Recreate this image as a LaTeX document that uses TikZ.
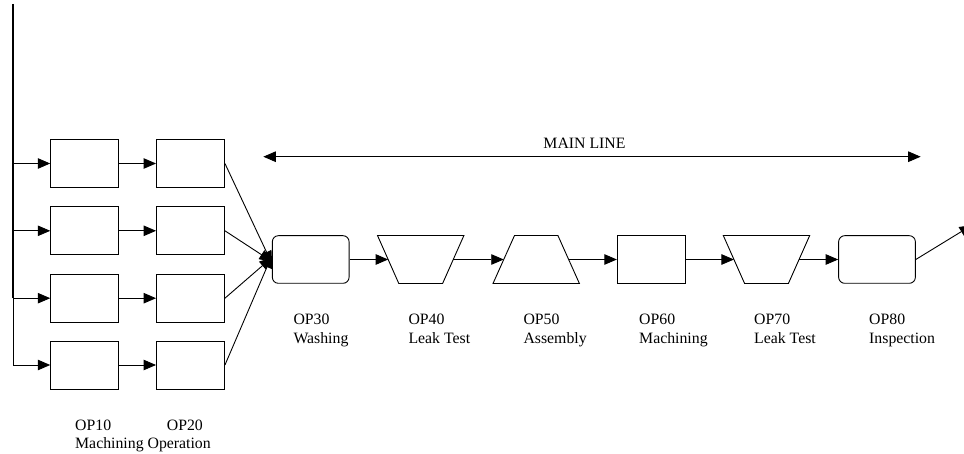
\documentclass[tikz,border=0pt]{standalone}
\usepackage{fontspec}
\setmainfont{Liberation Serif}
\usetikzlibrary{arrows.meta}
\tikzset{
  box/.style={draw, line width=0.9pt, minimum width=68pt, minimum height=48pt, inner sep=0pt},
  rbox/.style={draw, line width=0.9pt, rounded corners=6pt, minimum width=76.7pt, minimum height=47.6pt, inner sep=0pt},
  trap/.style={draw=none, minimum width=86pt, minimum height=47.6pt, inner sep=0pt},
  lbl/.style={font=\fontsize{15.8}{18.4}\selectfont, align=left, inner sep=0pt, anchor=base west},
  flow/.style={line width=0.9pt, -{Triangle[length=12.5pt,width=10.5pt]}},
  shp/.style={line width=0.9pt}
}
\begin{document}
\begin{tikzpicture}[x=1pt,y=-1pt]
\useasboundingbox (0,0) rectangle (964,454);
% feeder line
\coordinate (top) at (13,4);
\coordinate (b1) at (13,163.5);
\coordinate (b2) at (13,230.8);
\coordinate (b3) at (13,298.2);
\coordinate (b4) at (13,365);
\draw[line width=2pt] (top) -- (b3);
\draw[line width=0.9pt] (b3) -- (b4);
% OP10 / OP20 boxes
\foreach \i/\y in {1/163.5,2/230.8,3/298.2,4/365}{
  \node[box] (a\i) at (84.7,\y) {};
  \node[box] (c\i) at (190.5,\y) {};
  \draw[flow] (b\i) -- (a\i.west);
  \draw[flow] (a\i.east) -- (c\i.west);
}
% main line stations
\node[rbox] (op30) at (310.7,259.5) {};
\node[trap] (op40) at (420.7,259.5) {};
\draw[shp] (op40.north west) -- (op40.north east) -- ([xshift=-21.3pt]op40.south east) -- ([xshift=21.3pt]op40.south west) -- cycle;
\node[trap] (op50) at (536.2,259.5) {};
\draw[shp] (op50.south west) -- (op50.south east) -- ([xshift=-21.5pt]op50.north east) -- ([xshift=21.5pt]op50.north west) -- cycle;
\node[box] (op60) at (651.3,259.5) {};
\node[trap] (op70) at (766.5,259.5) {};
\draw[shp] (op70.north west) -- (op70.north east) -- ([xshift=-21.3pt]op70.south east) -- ([xshift=21.3pt]op70.south west) -- cycle;
\node[rbox] (op80) at (877,259.5) {};
% converging arrows
\draw[flow] (c1.east) -- ([yshift=-4pt]op30.west);
\draw[flow] (c2.east) -- ([yshift=-2pt]op30.west);
\draw[flow] (c3.east) -- ([yshift=2pt]op30.west);
\draw[flow] (c4.east) -- ([yshift=4pt]op30.west);
% main flow
\draw[flow] (op30.east) -- ([xshift=10.65pt]op40.west);
\draw[flow] ([xshift=-10.65pt]op40.east) -- ([xshift=10.75pt]op50.west);
\draw[flow] ([xshift=-10.75pt]op50.east) -- (op60.west);
\draw[flow] (op60.east) -- ([xshift=10.65pt]op70.west);
\draw[flow] ([xshift=-10.65pt]op70.east) -- (op80.west);
\coordinate (out) at (972,225.1);
\draw[flow] (op80.east) -- (out);
% MAIN LINE
\coordinate (mll) at (263.3,156.7);
\coordinate (mlr) at (920.7,156.7);
\draw[line width=0.9pt, {Triangle[length=12.5pt,width=10.5pt]}-{Triangle[length=12.5pt,width=10.5pt]}] (mll) -- (mlr);
\node[lbl, anchor=base] (ml) at (584.5,148.3) {MAIN LINE};
% labels (base anchor = last line)
\node[lbl] (l30) at (293.3,343.4) {OP30\\Washing};
\node[lbl] (l40) at (408.3,343.4) {OP40\\Leak Test};
\node[lbl] (l50) at (523.3,343.4) {OP50\\Assembly};
\node[lbl] (l60) at (639,343.4) {OP60\\Machining};
\node[lbl] (l70) at (754,343.4) {OP70\\Leak Test};
\node[lbl] (l80) at (869,343.4) {OP80\\Inspection};
\node[lbl] (l10) at (75,430) {OP10};
\node[lbl] (l20) at (166.7,430) {OP20};
\node[lbl] (lmo) at (75,448.5) {Machining Operation};
\end{tikzpicture}
\end{document}
